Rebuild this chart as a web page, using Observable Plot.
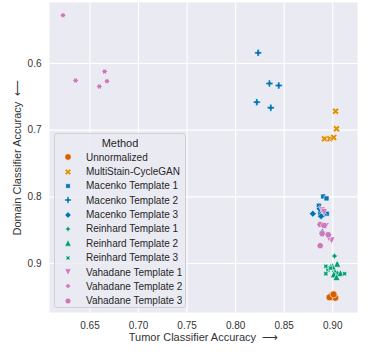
<!DOCTYPE html>
<html>
<head>
<meta charset="utf-8">
<script src="https://cdn.jsdelivr.net/npm/d3@7"></script>
<script src="https://cdn.jsdelivr.net/npm/@observablehq/plot@0.6"></script>
<style>
  body { margin: 0; background: #fff; }
  #wrap { position: relative; width: 374px; height: 357px; font-family: "Liberation Sans", Arial, sans-serif; }
  #wrap svg text { font-family: "Liberation Sans", Arial, sans-serif; }
  g[aria-label="x-axis label"], g[aria-label="y-axis label"] { font-size: 11px; }
  #legendbox { position: absolute; left: 54px; top: 133px; width: 132px; height: 175px; box-sizing: border-box;
    border: 1px solid #cfcfd6; border-radius: 3px; background: rgba(234,234,242,0.8); color: #262626; }
  #legendbox .ttl { font-size: 11px; line-height: 13px; padding-top: 3px; height: 13px; text-align: center; }
  #legendbox .lg-swatches { font: 10px "Liberation Sans", Arial, sans-serif !important; color: #262626; margin: 0 !important; padding-left: 6px; min-height: 0 !important; }
  #legendbox .lg-swatch { height: 14.37px; padding-bottom: 0 !important; display: flex; align-items: center; }
  #legendbox .lg-swatch > svg { margin-right: 11px !important; }
</style>
</head>
<body>
<div id="wrap"></div>
<script>
const methods = ["Unnormalized", "MultiStain-CycleGAN", "Macenko Template 1", "Macenko Template 2", "Macenko Template 3",
  "Reinhard Template 1", "Reinhard Template 2", "Reinhard Template 3", "Vahadane Template 1", "Vahadane Template 2", "Vahadane Template 3"];
const methodColors = ["#d55e00", "#de8f05", "#0173b2", "#0173b2", "#0173b2", "#029e73", "#029e73", "#029e73", "#cc78bc", "#cc78bc", "#cc78bc"];
const xTicks = [0.65, 0.70, 0.75, 0.80, 0.85, 0.90];
const yTicks = [0.6, 0.7, 0.8, 0.9];

// Tumor classifier accuracy (x) and domain classifier accuracy (y) per method
const unnormalizedX = [0.8985, 0.9005, 0.9026, 0.8967, 0.9008];
const unnormalizedY = [0.9483, 0.9504, 0.9513, 0.9508, 0.9463];
const multiStainX = [0.9029, 0.9039, 0.8915, 0.8970, 0.9010];
const multiStainY = [0.6715, 0.6980, 0.7130, 0.7130, 0.7110];
const macenko1X = [0.8902, 0.8936, 0.8857, 0.8871, 0.8939];
const macenko1Y = [0.7994, 0.8024, 0.8133, 0.8244, 0.8253];
const macenko2X = [0.8232, 0.8348, 0.8444, 0.8218, 0.8362];
const macenko2Y = [0.5840, 0.6300, 0.6330, 0.6580, 0.6664];
const macenko3X = [0.8795, 0.8905, 0.8892, 0.8865, 0.8880];
const macenko3Y = [0.8253, 0.8264, 0.8530, 0.8180, 0.8290];
const reinhard1X = [0.9019, 0.8980, 0.9020, 0.8950, 0.9050];
const reinhard1Y = [0.8889, 0.9050, 0.9120, 0.9080, 0.9150];
const reinhard2X = [0.9046, 0.8998, 0.9011, 0.9080, 0.9039];
const reinhard2Y = [0.9003, 0.9043, 0.9163, 0.9144, 0.9204];
const reinhard3X = [0.8929, 0.8950, 0.8929, 0.9122, 0.8977];
const reinhard3Y = [0.9043, 0.9103, 0.9153, 0.9153, 0.9070];
const vahadane1X = [0.8892, 0.8988, 0.8910, 0.8930, 0.8960];
const vahadane1Y = [0.8204, 0.8654, 0.8230, 0.8440, 0.8620];
const vahadane2X = [0.6222, 0.6352, 0.6651, 0.6675, 0.6596];
const vahadane2Y = [0.5276, 0.6255, 0.6120, 0.6265, 0.6345];
const vahadane3X = [0.8871, 0.8892, 0.8954, 0.8871, 0.8910];
const vahadane3Y = [0.8414, 0.8553, 0.8568, 0.8733, 0.8430];

const seriesX = [unnormalizedX, multiStainX, macenko1X, macenko2X, macenko3X, reinhard1X, reinhard2X, reinhard3X, vahadane1X, vahadane2X, vahadane3X];
const seriesY = [unnormalizedY, multiStainY, macenko1Y, macenko2Y, macenko3Y, reinhard1Y, reinhard2Y, reinhard3Y, vahadane1Y, vahadane2Y, vahadane3Y];
const data = [];
methods.forEach((m, i) => seriesX[i].forEach((x, j) => data.push({method: m, tumor: x, domain: seriesY[i][j]})));

// seaborn-like marker shapes
function poly(ctx, pts) { ctx.moveTo(pts[0][0], pts[0][1]); for (let k = 1; k < pts.length; k++) ctx.lineTo(pts[k][0], pts[k][1]); ctx.closePath(); }
const rad = (size) => Math.sqrt(size / Math.PI);
function regular(n, angle, star, inner = 0.5) {
  return {draw(ctx, size) {
    const r = rad(size), pts = [];
    for (let k = 0; k < n; k++) {
      const t = 2 * Math.PI * k / n + Math.PI / 2 + angle * Math.PI / 180;
      pts.push([r * Math.cos(t), -r * Math.sin(t)]);
      if (star) { const t2 = t + Math.PI / n; pts.push([inner * r * Math.cos(t2), -inner * r * Math.sin(t2)]); }
    }
    poly(ctx, pts);
  }};
}
const circleSym = {draw(ctx, size) { const r = rad(size); ctx.moveTo(r, 0); ctx.arc(0, 0, r, 0, 2 * Math.PI); }};
const xSym = {draw(ctx, size) { const s = rad(size) / 2;
  poly(ctx, [[0,-1],[-1,-2],[-2,-1],[-1,0],[-2,1],[-1,2],[0,1],[1,2],[2,1],[1,0],[2,-1],[1,-2]].map(([a, b]) => [a * s, b * s])); }};
const plusSym = {draw(ctx, size) { const s = rad(size) / 3;
  poly(ctx, [[-1,-3],[1,-3],[1,-1],[3,-1],[3,1],[1,1],[1,3],[-1,3],[-1,1],[-3,1],[-3,-1],[-1,-1]].map(([a, b]) => [a * s, b * s])); }};
const triUp = {draw(ctx, size) { const r = rad(size); poly(ctx, [[0, -r], [-r, r], [r, r]]); }};
const triDown = {draw(ctx, size) { const r = rad(size); poly(ctx, [[0, r], [-r, -r], [r, -r]]); }};
const methodSymbols = [circleSym, xSym, regular(4, 45, false), plusSym, regular(4, 0, false), regular(4, 0, true),
  triUp, regular(4, 45, true), triDown, regular(6, 30, true, 0.58), regular(6, 30, false)];

const plot = Plot.plot({
  width: 374,
  height: 357,
  marginLeft: 49,
  marginRight: 17,
  marginTop: 2,
  marginBottom: 45,
  style: {fontFamily: "Liberation Sans, Arial, sans-serif", fontSize: "10px", color: "#333", background: "white"},
  x: {domain: [0.6083, 0.9255]},
  y: {domain: [0.5085, 0.9735], reverse: true},
  color: {domain: methods, range: methodColors},
  symbol: {domain: methods, range: methodSymbols},
  marks: [
    Plot.frame({fill: "#eaeaf2", stroke: null}),
    Plot.gridX(xTicks, {stroke: "white", strokeOpacity: 1, strokeWidth: 1.1}),
    Plot.gridY(yTicks, {stroke: "white", strokeOpacity: 1, strokeWidth: 1.1}),
    Plot.axisX(xTicks, {tickSize: 0, tickPadding: 9, tickFormat: d3.format(".2f"), label: "Tumor Classifier Accuracy  ⟶",
      labelAnchor: "center", labelOffset: 28, labelArrow: "none", fontSize: 10}),
    Plot.axisY(yTicks, {tickSize: 0, tickPadding: 8, tickFormat: d3.format(".1f"), label: "Domain Classifier Accuracy  ⟵",
      labelAnchor: "center", labelOffset: 36, labelArrow: "none", fontSize: 10}),
    Plot.dot(data, {x: "tumor", y: "domain", fill: "method", symbol: "method", r: 3.5, stroke: "white", strokeWidth: 0.55})
  ]
});
const wrap = document.getElementById("wrap");
wrap.appendChild(plot);
const box = document.createElement("div");
box.id = "legendbox";
box.innerHTML = '<div class="ttl">Method</div>';
const lg = plot.legend("symbol", {columns: 1, r: 3.6, swatchSize: 14, className: "lg", strokeWidth: 0.55});
box.appendChild(lg);
wrap.appendChild(box);
</script>
</body>
</html>
